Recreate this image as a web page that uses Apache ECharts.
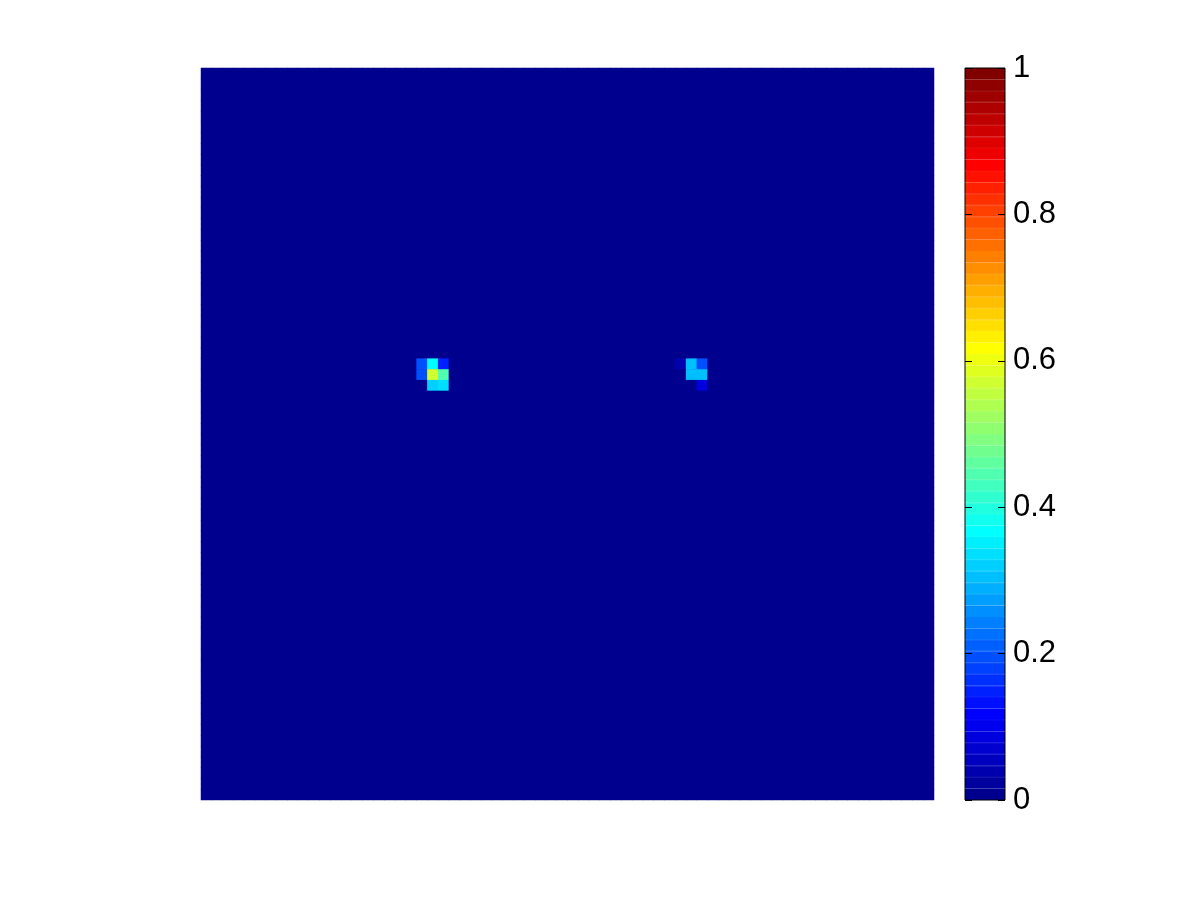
<!DOCTYPE html>
<html>
<head>
<meta charset="utf-8">
<script src="https://cdn.jsdelivr.net/npm/echarts@6/dist/echarts.min.js"></script>
<style>html,body{margin:0;padding:0;background:#fff;}#c{width:1200px;height:900px;}</style>
</head>
<body>
<div id="c"></div>
<script>
// ---- data ----
const gridSize = 68;                       // cells per side
const hotRows   = [27, 27, 27, 28, 28, 28, 29, 29, 27, 27, 27, 28, 28, 29];
const hotCols   = [20, 21, 22, 20, 21, 22, 21, 22, 44, 45, 46, 45, 46, 46];
const hotValues = [0.19, 0.37, 0.15, 0.20, 0.57, 0.44, 0.32, 0.335, 0.035, 0.30, 0.20, 0.30, 0.30, 0.08];
const colorbarTicks = ['0', '0.2', '0.4', '0.6', '0.8', '1'];
const colorMin = 0, colorMax = 1;

// ---- jet(64) colour map ----
function jet64() {
  const m = 64, n = 16, out = [];
  const u = [];
  for (let k = 1; k <= n; k++) u.push(k / n);
  for (let k = 1; k < n; k++) u.push(1);
  for (let k = n; k >= 1; k--) u.push(k / n);
  const R = new Array(m).fill(0), G = new Array(m).fill(0), B = new Array(m).fill(0);
  for (let k = 0; k < u.length; k++) {
    const g = 8 + k + 1, r = g + n, b = g - n;
    if (g >= 1 && g <= m) G[g - 1] = u[k];
    if (r >= 1 && r <= m) R[r - 1] = u[k];
    if (b >= 1 && b <= m) B[b - 1] = u[k];
  }
  for (let i = 0; i < m; i++) {
    out.push('rgb(' + Math.round(R[i] * 255) + ',' + Math.round(G[i] * 255) + ',' + Math.round(B[i] * 255) + ')');
  }
  return out;
}
const jet = jet64();

// ---- build table ----
const cats = [];
for (let i = 0; i < gridSize; i++) cats.push(String(i));
const valueAt = {};
hotRows.forEach((r, i) => { valueAt[r + '_' + hotCols[i]] = hotValues[i]; });
const heatData = [];
for (let r = 0; r < gridSize; r++) {
  for (let c = 0; c < gridSize; c++) {
    heatData.push([c, r, valueAt[r + '_' + c] || 0]);
  }
}
const pieces = jet.map((col, i) => {
  const lo = colorMin + (colorMax - colorMin) * i / jet.length;
  const hi = colorMin + (colorMax - colorMin) * (i + 1) / jet.length;
  return i === jet.length - 1 ? { gte: lo, lte: hi, color: col } : { gte: lo, lt: hi, color: col };
});
const barCats = jet.map((_, i) => String(i));
const barData = jet.map(col => ({ value: 1, itemStyle: { color: col, borderColor: col, borderWidth: 1 } }));

const chart = echarts.init(document.getElementById('c'), null, { renderer: 'canvas' });
chart.setOption({
  animation: false,
  backgroundColor: '#ffffff',
  grid: [
    { left: 201, top: 68, width: 733, height: 732, show: true, backgroundColor: jet[0], borderWidth: 0 },
    { left: 965, top: 68, width: 40, height: 732, show: true, borderColor: '#000', borderWidth: 1, backgroundColor: 'transparent', z: 5 }
  ],
  xAxis: [
    { type: 'category', data: cats, gridIndex: 0, show: false },
    { type: 'value', gridIndex: 1, min: 0, max: 1, show: false }
  ],
  yAxis: [
    { type: 'category', data: cats, gridIndex: 0, inverse: true, show: false },
    { type: 'category', data: barCats, gridIndex: 1, show: false },
    { type: 'value', gridIndex: 1, position: 'right', min: colorMin, max: colorMax, interval: 0.2, z: 6,
      axisLine: { show: false },
      axisTick: { show: true, inside: true, length: 7, lineStyle: { color: '#000' } },
      splitLine: { show: false },
      axisLabel: { show: true, margin: 8, color: '#000', fontSize: 31, fontFamily: 'Liberation Sans, Arial, sans-serif',
        formatter: v => { const idx = Math.round(v / 0.2); return colorbarTicks[idx] !== undefined ? colorbarTicks[idx] : ''; } } },
    { type: 'value', gridIndex: 1, position: 'left', min: colorMin, max: colorMax, interval: 0.2, z: 6,
      axisLine: { show: false },
      axisTick: { show: true, inside: true, length: 7, lineStyle: { color: '#000' } },
      splitLine: { show: false },
      axisLabel: { show: false } }
  ],
  visualMap: {
    type: 'piecewise', show: false, seriesIndex: 0, dimension: 2, pieces: pieces
  },
  series: [
    { type: 'heatmap', xAxisIndex: 0, yAxisIndex: 0, data: heatData, progressive: 0, itemStyle: { borderWidth: 0 } },
    { type: 'bar', xAxisIndex: 1, yAxisIndex: 1, data: barData, barWidth: '100%', barCategoryGap: 0, silent: true, z: 1 }
  ]
});
</script>
</body>
</html>
